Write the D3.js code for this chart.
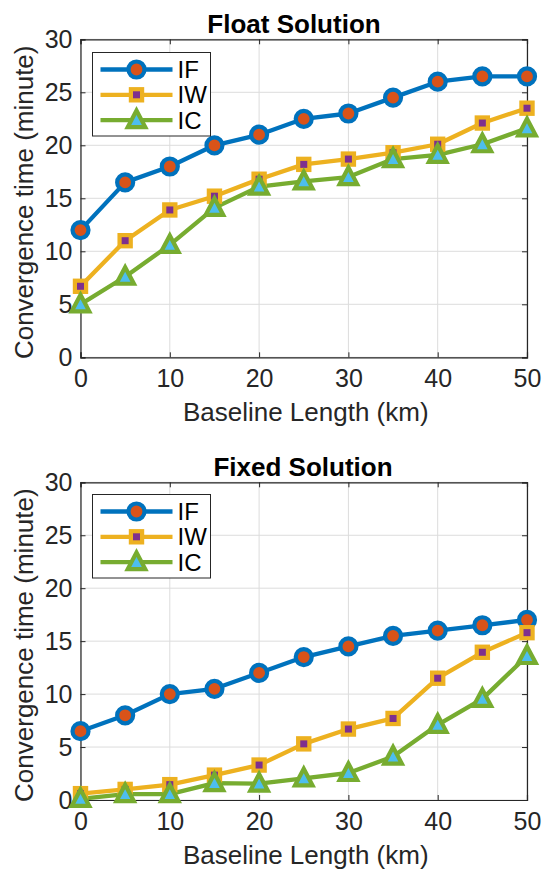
<!DOCTYPE html>
<html>
<head>
<meta charset="utf-8">
<script src="https://cdn.jsdelivr.net/npm/d3@7"></script>
<style>
  body { margin: 0; background: #fff; }
  svg { display: block; font-family: "Liberation Sans", Arial, sans-serif; }
</style>
</head>
<body>
<svg id="chart" width="542" height="870"></svg>
<script>
// ---- data
const baseline = [0, 5, 10, 15, 20, 25, 30, 35, 40, 45, 50];
const xTicks = [0, 10, 20, 30, 40, 50];
const yTicks = [0, 5, 10, 15, 20, 25, 30];

const floatIF = [12, 16.5, 18, 20, 21, 22.5, 23, 24.5, 26, 26.5, 26.5];
const floatIW = [6.7, 11, 13.9, 15.2, 16.8, 18.2, 18.7, 19.3, 20.1, 22.1, 23.5];
const floatIC = [5, 7.6, 10.6, 14.1, 16.1, 16.6, 17, 18.7, 19.1, 20.1, 21.6];

const fixedIF = [6.5, 8, 10, 10.5, 12, 13.5, 14.5, 15.5, 16, 16.5, 17];
const fixedIW = [0.6, 1, 1.45, 2.35, 3.3, 5.3, 6.7, 7.7, 11.5, 13.95, 15.8];
const fixedIC = [0.1, 0.55, 0.55, 1.6, 1.55, 2.05, 2.55, 4.1, 7.1, 9.55, 13.6];

const seriesNames = ['IF', 'IW', 'IC'];

// estilos por série (cores padrão do MATLAB)
const estilos = {
    IF: { line: '#0072BD', face: '#D95319', marker: 'circle' },
    IW: { line: '#EDB120', face: '#7E2F8E', marker: 'square' },
    IC: { line: '#77AC30', face: '#4DBEEE', marker: 'triangle' }
};

const svg = d3.select('#chart');
const left = 80.5, right = 527;
const fonte = '"Liberation Sans", Arial, sans-serif';

function drawMarker(g, tipo, cx, cy, st) {
    if (tipo === 'circle') {
        g.append('circle').attr('cx', cx).attr('cy', cy).attr('r', 8)
            .attr('fill', st.face).attr('stroke', st.line).attr('stroke-width', 4.2);
    } else if (tipo === 'square') {
        const s = 11.2;
        g.append('rect').attr('x', cx - s / 2).attr('y', cy - s / 2)
            .attr('width', s).attr('height', s)
            .attr('fill', st.face).attr('stroke', st.line).attr('stroke-width', 4.2);
    } else {
        const h = 15, w = 17.5;
        const pts = [[cx, cy - h / 2 - 2], [cx + w / 2, cy + h / 2 - 0.5], [cx - w / 2, cy + h / 2 - 0.5]];
        g.append('path').attr('d', 'M' + pts.map(p => p.join(',')).join('L') + 'Z')
            .attr('fill', st.face).attr('stroke', st.line).attr('stroke-width', 4.2)
            .attr('stroke-linejoin', 'miter');
    }
}

function drawPanel(top, bottom, title, titleX, dados, legendBox) {
    const x = d3.scaleLinear().domain([0, 50]).range([left, right]);
    const y = d3.scaleLinear().domain([0, 30]).range([bottom, top]);
    const g = svg.append('g');

    // grid
    g.append('g').selectAll('line.gx').data(xTicks).join('line')
        .attr('x1', d => x(d)).attr('x2', d => x(d)).attr('y1', top).attr('y2', bottom)
        .attr('stroke', '#dcdcdc').attr('stroke-width', 1);
    g.append('g').selectAll('line.gy').data(yTicks).join('line')
        .attr('y1', d => y(d)).attr('y2', d => y(d)).attr('x1', left).attr('x2', right)
        .attr('stroke', '#dcdcdc').attr('stroke-width', 1);

    // eixos (ticks para dentro, box)
    const axB = g.append('g').attr('transform', `translate(0,${bottom})`)
        .call(d3.axisBottom(x).tickValues(xTicks).tickSize(-5).tickPadding(12));
    const axT = g.append('g').attr('transform', `translate(0,${top})`)
        .call(d3.axisTop(x).tickValues(xTicks).tickSize(-5).tickFormat(''));
    const axL = g.append('g').attr('transform', `translate(${left},0)`)
        .call(d3.axisLeft(y).tickValues(yTicks).tickSize(-5).tickPadding(8));
    const axR = g.append('g').attr('transform', `translate(${right},0)`)
        .call(d3.axisRight(y).tickValues(yTicks).tickSize(-5).tickFormat(''));
    [axB, axT, axL, axR].forEach(a => {
        a.select('.domain').attr('stroke', '#262626').attr('stroke-width', 1.2);
        a.selectAll('.tick line').attr('stroke', '#262626').attr('stroke-width', 1);
        a.selectAll('text').attr('fill', '#262626').style('font-size', '25px')
            .style('font-family', fonte);
    });
    axB.selectAll('text').attr('dy', '0.71em');

    // séries
    const line = d3.line().x((d, i) => x(baseline[i])).y(d => y(d));
    seriesNames.forEach((nome, k) => {
        const st = estilos[nome];
        g.append('path').datum(dados[k]).attr('d', line)
            .attr('fill', 'none').attr('stroke', st.line).attr('stroke-width', 4.3)
            .attr('stroke-linejoin', 'round');
    });
    seriesNames.forEach((nome, k) => {
        const st = estilos[nome];
        const mg = g.append('g');
        dados[k].forEach((v, i) => drawMarker(mg, st.marker, x(baseline[i]), y(v), st));
    });

    // título
    g.append('text').attr('x', titleX).attr('y', top - 6)
        .attr('text-anchor', 'middle').style('font-weight', 'bold').style('font-size', '26px')
        .attr('fill', '#000').text(title);

    // rótulos
    g.append('text').attr('x', (left + right) / 2 + 2).attr('y', bottom + 64)
        .attr('text-anchor', 'middle').style('font-size', '26px').attr('fill', '#262626')
        .text('Baseline Length (km)');
    g.append('text').attr('transform', `translate(33,${(top + bottom) / 2 + 4}) rotate(-90)`)
        .attr('text-anchor', 'middle').style('font-size', '26px').attr('fill', '#262626')
        .text('Convergence time (minute)');

    // legenda
    const lg = g.append('g');
    lg.append('rect').attr('x', legendBox.x).attr('y', legendBox.y)
        .attr('width', legendBox.w).attr('height', legendBox.h)
        .attr('fill', '#fff').attr('stroke', '#262626').attr('stroke-width', 1);
    seriesNames.forEach((nome, k) => {
        const st = estilos[nome];
        const ly = legendBox.y + 17 + k * 25.3;
        lg.append('line').attr('x1', legendBox.x + 8).attr('x2', legendBox.x + 80)
            .attr('y1', ly).attr('y2', ly).attr('stroke', st.line).attr('stroke-width', 4.3);
        drawMarker(lg, st.marker, legendBox.x + 44, ly, st);
        lg.append('text').attr('x', legendBox.x + 85).attr('y', ly).attr('dy', '0.36em')
            .style('font-size', '24px').attr('fill', '#000').text(nome);
    });
}

drawPanel(39.3, 357.3, 'Float Solution', 294, [floatIF, floatIW, floatIC], { x: 92.5, y: 52.5, w: 118, h: 83.5 });
drawPanel(482.3, 800, 'Fixed Solution', 303, [fixedIF, fixedIW, fixedIC], { x: 92.5, y: 494.5, w: 118, h: 83.5 });
</script>
</body>
</html>
